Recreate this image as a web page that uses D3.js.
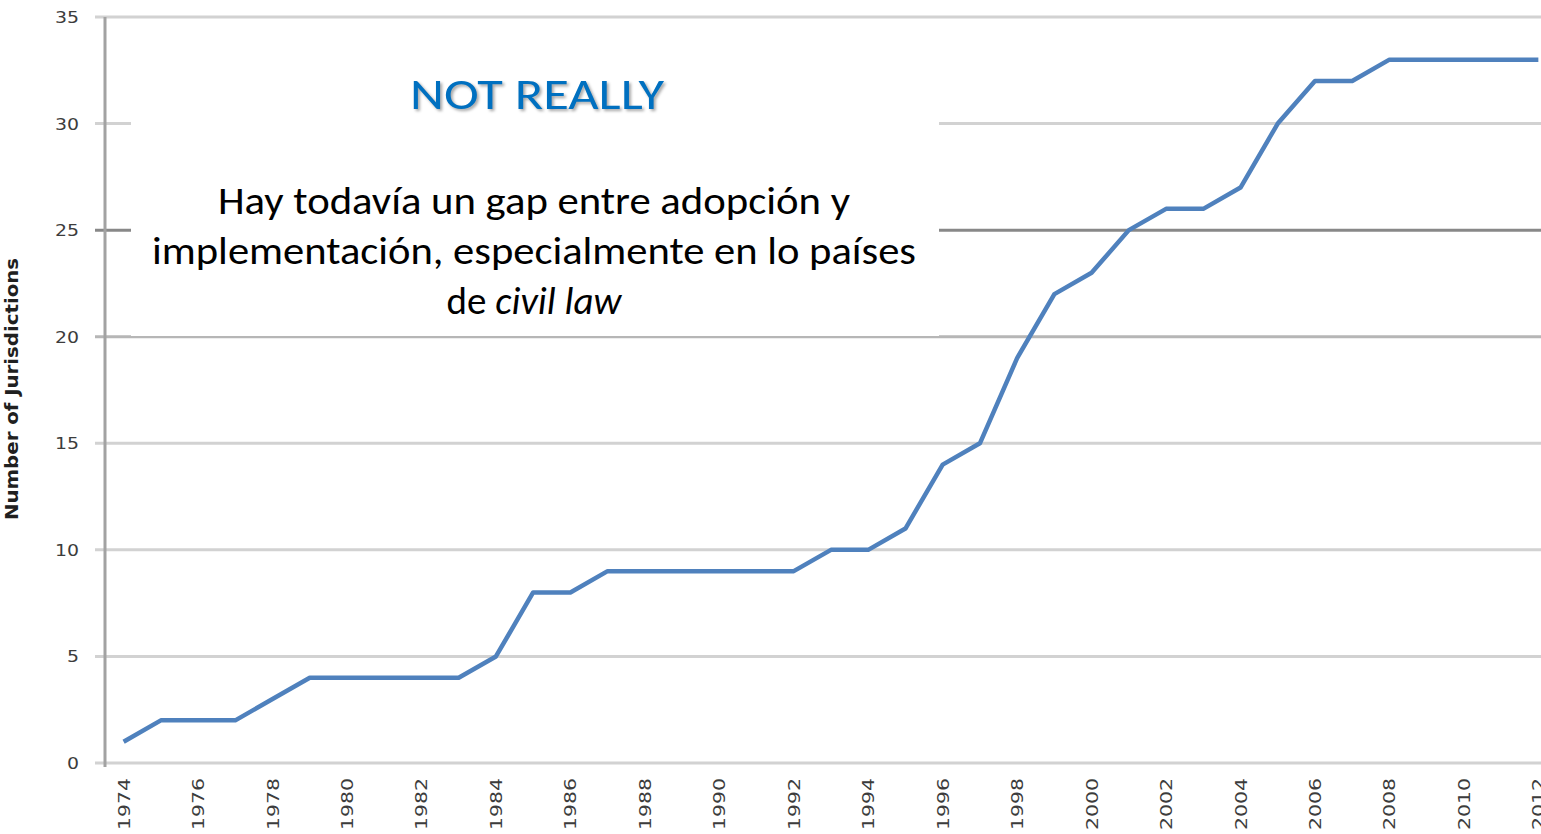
<!DOCTYPE html>
<html lang="en">
<head>
  <meta charset="UTF-8">
  <title>Number of Jurisdictions</title>
  <style>
    body { margin: 0; background: #fff; }
    text { font-family: 'DejaVu Sans', sans-serif; }
  </style>
</head>
<body>
  <svg id="svg" width="1541" height="834"></svg>
  <script src="https://d3js.org/d3.v7.min.js"></script>
  <script>
    const years = d3.range(1974, 2013)
    const jurisdictions = [1, 2, 2, 2, 3, 4, 4, 4, 4, 4, 5, 8, 8, 9, 9, 9, 9, 9, 9, 10,
      10, 11, 14, 15, 19, 22, 23, 25, 26, 26, 27, 30, 32, 32, 33, 33, 33, 33, 33]
    const yTicks = [0, 5, 10, 15, 20, 25, 30, 35]
    const yearLabels = years.filter(y => y % 2 === 0)
    const title = 'NOT REALLY'
    const noteLines = ['Hay todavía un gap entre adopción y',
      'implementación, especialmente en lo países']

    const width = 1541
    const plotLeft = 105
    const plotTop = 17
    const plotBottom = 763

    const xScale = d3.scalePoint()
      .domain(years)
      .range([plotLeft, plotLeft + 39 * 37.23])
      .padding(0.5)
    const yScale = d3.scaleLinear()
      .domain([0, 35])
      .range([plotBottom, plotTop])

    const svg = d3.select('#svg')

    // gridlines (with the short tick stub left of the axis)
    svg.append('g')
      .selectAll('line')
      .data(yTicks)
      .enter()
      .append('line')
      .attr('x1', 95)
      .attr('x2', width)
      .attr('y1', d => yScale(d))
      .attr('y2', d => yScale(d))
      .attr('stroke', d => d === 25 ? '#888888' : d === 20 ? '#b6b6b6' : '#d2d2d2')
      .attr('stroke-width', 3)

    // white text box sitting over the chart
    svg.append('rect')
      .attr('x', 131)
      .attr('y', 32)
      .attr('width', 808)
      .attr('height', 304)
      .attr('fill', '#fff')

    // y axis line
    svg.append('line')
      .attr('x1', plotLeft)
      .attr('x2', plotLeft)
      .attr('y1', plotTop)
      .attr('y2', plotBottom + 4)
      .attr('stroke', '#a2a2a2')
      .attr('stroke-width', 3)

    // y tick labels
    svg.append('g')
      .selectAll('text')
      .data(yTicks)
      .enter()
      .append('text')
      .text(d => d)
      .attr('x', 79)
      .attr('y', d => yScale(d) + 6)
      .attr('text-anchor', 'end')
      .attr('textLength', d => String(d).length * 12)
      .attr('lengthAdjust', 'spacingAndGlyphs')
      .style('font-size', '16px')
      .style('fill', '#3c3c3c')

    // x tick labels, rotated
    svg.append('g')
      .selectAll('text')
      .data(yearLabels)
      .enter()
      .append('text')
      .text(d => d)
      .attr('transform', d => `translate(${xScale(d) + 6}, 778) rotate(-90)`)
      .attr('text-anchor', 'end')
      .attr('textLength', 52)
      .attr('lengthAdjust', 'spacingAndGlyphs')
      .style('font-size', '16px')
      .style('fill', '#3c3c3c')

    // y axis title
    svg.append('text')
      .text('Number of Jurisdictions')
      .attr('transform', 'translate(18, 389) rotate(-90)')
      .attr('text-anchor', 'middle')
      .attr('textLength', 262)
      .attr('lengthAdjust', 'spacingAndGlyphs')
      .style('font-size', '17px')
      .style('font-weight', 'bold')
      .style('fill', '#202020')

    // the series
    const line = d3.line()
      .x((d, i) => xScale(years[i]))
      .y(d => yScale(d))
    svg.append('path')
      .datum(jurisdictions)
      .attr('d', line)
      .attr('fill', 'none')
      .attr('stroke', '#4f81bd')
      .attr('stroke-width', 4.5)
      .attr('stroke-linejoin', 'round')

    // annotation
    const font = "Carlito, Calibri, Lato, sans-serif"
    svg.append('text')
      .text(title)
      .attr('x', 537)
      .attr('y', 109)
      .attr('text-anchor', 'middle')
      .attr('textLength', 254)
      .attr('lengthAdjust', 'spacingAndGlyphs')
      .style('font-family', font)
      .style('font-size', '44px')
      .style('fill', '#0070c0')
      .style('filter', 'drop-shadow(2px 2px 1.5px rgba(0,0,0,0.35))')

    const noteWidths = [632, 764]
    svg.append('g')
      .selectAll('text')
      .data(noteLines)
      .enter()
      .append('text')
      .text(d => d)
      .attr('x', 534)
      .attr('y', (d, i) => 214 + i * 50)
      .attr('text-anchor', 'middle')
      .attr('textLength', (d, i) => noteWidths[i])
      .attr('lengthAdjust', 'spacingAndGlyphs')
      .style('font-family', font)
      .style('font-size', '38px')
      .style('fill', '#000')

    const last = svg.append('text')
      .attr('x', 534)
      .attr('y', 314)
      .attr('text-anchor', 'middle')
      .style('font-family', font)
      .style('font-size', '39px')
      .style('fill', '#000')
    last.append('tspan').text('de ')
    last.append('tspan').text('civil law').style('font-style', 'italic')
  </script>
</body>
</html>
